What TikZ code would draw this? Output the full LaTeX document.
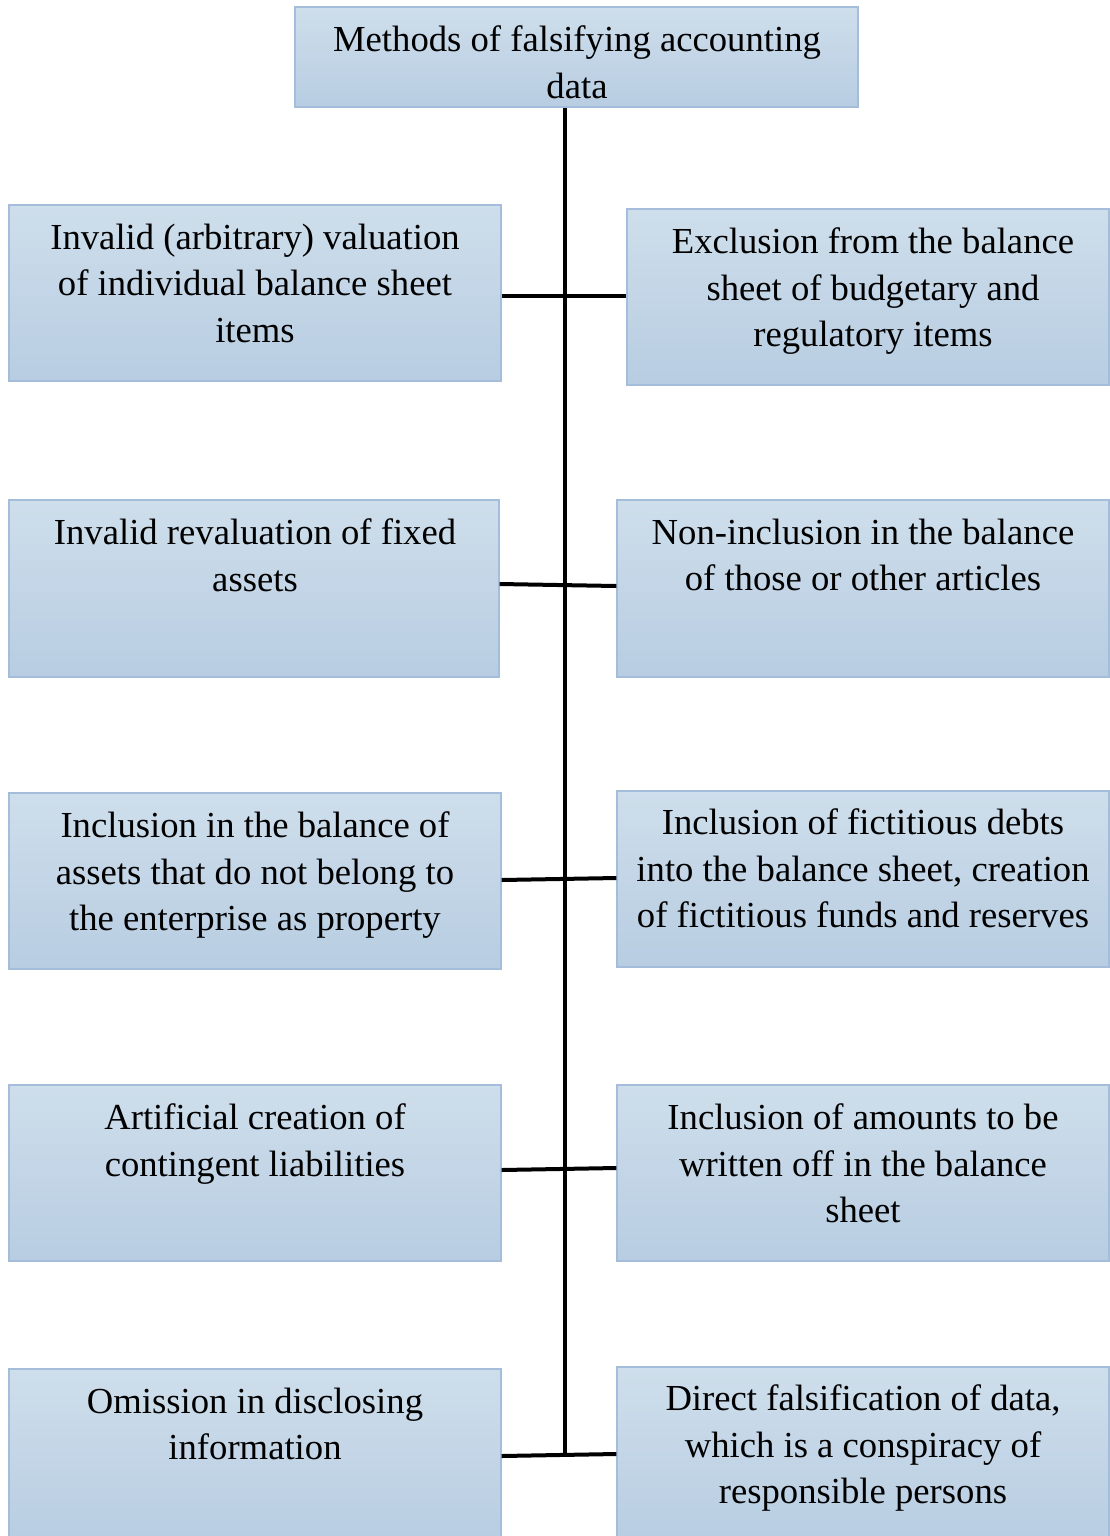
\documentclass[tikz,border=0pt]{standalone}
\usepackage{fontspec}
\setmainfont{Liberation Serif}
\usetikzlibrary{fit}
\definecolor{boxtop}{HTML}{CEDEEB}
\definecolor{boxbot}{HTML}{B8CDE2}
\definecolor{boxline}{HTML}{A3BDDA}
\tikzset{
  box/.style={draw=boxline, line width=1pt, top color=boxtop, bottom color=boxbot, inner sep=0pt},
  txt/.style={anchor=north, align=center, inner sep=0pt, font=\fontsize{27.5pt}{34.9pt}\selectfont, execute at begin node=\strut},
  conn/.style={draw=black, line width=3pt}
}
\begin{document}
\begin{tikzpicture}[x=0.75pt,y=-0.75pt]
\useasboundingbox (0,0) rectangle (1110,1536);
% boxes
\node[box, fit={(295,7) (858,107)}] (T) {};
\node[box, fit={(9,205) (501,381)}] (L1) {};
\node[box, fit={(627,209) (1109,385)}] (R1) {};
\node[box, fit={(9,500) (499,677)}] (L2) {};
\node[box, fit={(617,500) (1109,677)}] (R2) {};
\node[box, fit={(9,793) (501,969)}] (L3) {};
\node[box, fit={(617,791) (1109,967)}] (R3) {};
\node[box, fit={(9,1085) (501,1261)}] (L4) {};
\node[box, fit={(617,1085) (1109,1261)}] (R4) {};
\node[box, fit={(9,1369) (501,1545)}] (L5) {};
\node[box, fit={(617,1367) (1109,1545)}] (R5) {};
% texts
\node[txt] (Tt) at (577,25.5) {Methods of falsifying accounting\\data};
\node[txt] (L1t) at (255,223.5) {Invalid (arbitrary) valuation\\of individual balance sheet\\items};
\node[txt] (R1t) at (873,227.5) {Exclusion from the balance\\sheet of budgetary and\\regulatory items};
\node[txt] (L2t) at (255,518.5) {Invalid revaluation of fixed\\assets};
\node[txt] (R2t) at (863,518.5) {Non-inclusion in the balance\\of those or other articles};
\node[txt] (L3t) at (255,811.5) {Inclusion in the balance of\\assets that do not belong to\\the enterprise as property};
\node[txt] (R3t) at (863,808.5) {Inclusion of fictitious debts\\into the balance sheet, creation\\of fictitious funds and reserves};
\node[txt] (L4t) at (255,1103.5) {Artificial creation of\\contingent liabilities};
\node[txt] (R4t) at (863,1103.5) {Inclusion of amounts to be\\written off in the balance\\sheet};
\node[txt] (L5t) at (255,1387.5) {Omission in disclosing\\information};
\node[txt] (R5t) at (863,1384.5) {Direct falsification of data,\\which is a conspiracy of\\responsible persons};
% connectors
\coordinate (vb) at (565,1455);
\draw[conn] (565,0 |- T.south) -- (vb);
\draw[conn] (L1.east |- 0,296) -- (R1.west |- 0,296);
\draw[conn] (L2.east |- 0,584) -- (R2.west |- 0,586);
\draw[conn] (L3.east |- 0,880) -- (R3.west |- 0,878);
\draw[conn] (L4.east |- 0,1170) -- (R4.west |- 0,1168);
\draw[conn] (L5.east |- 0,1456) -- (R5.west |- 0,1454);
\end{tikzpicture}
\end{document}
